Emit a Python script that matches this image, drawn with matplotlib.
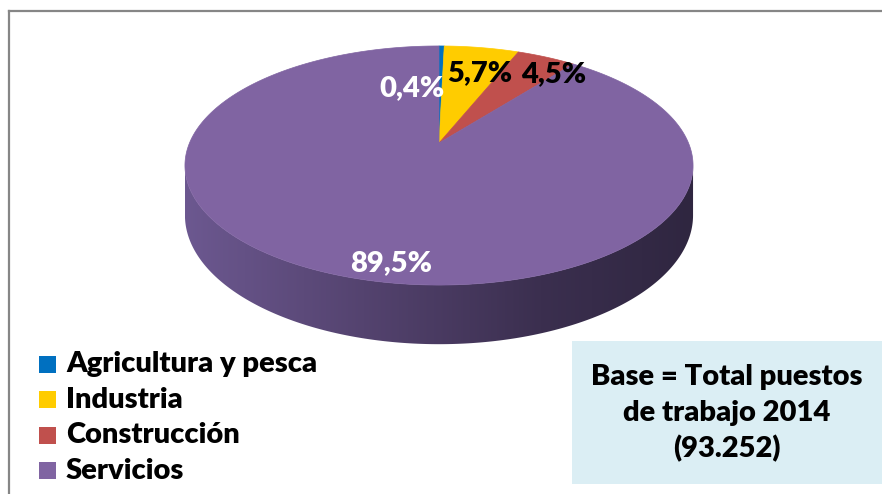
import numpy as np
import matplotlib
matplotlib.use("Agg")
import matplotlib.pyplot as plt
from matplotlib.patches import Polygon, Rectangle
from matplotlib.colors import LinearSegmentedColormap
from matplotlib.lines import Line2D

# ---- data ----
categories = ["Agricultura y pesca", "Industria", "Construcción", "Servicios"]
values = [0.4, 5.7, 4.5, 89.5]
value_labels = ["0,4%", "5,7%", "4,5%", "89,5%"]
colors = ["#0070c0", "#ffcc00", "#c0504d", "#8064a2"]
label_colors = ["white", "black", "black", "white"]
note_lines = ["Base = Total puestos", "de trabajo 2014", "(93.252)"]

W, H = 882, 494
fig = plt.figure(figsize=(W / 100, H / 100), dpi=100)
ax = fig.add_axes([0, 0, 1, 1])
ax.set_xlim(0, W)
ax.set_ylim(H, 0)
ax.axis("off")

FONT = ["Lato", "DejaVu Sans"]
FS = 21
FW = "heavy"

# ---- 3D pie geometry (perspective projection) ----
cx, cy = 439, 143
a, b, k = 249.5, 115.3, 0.1883
thick = 48.0


def proj(theta_deg, r=1.0, z=0.0):
    th = np.radians(theta_deg)
    x, y = r * np.cos(th), r * np.sin(th)
    w = 1 + k * y
    return cx + a * x / w, cy - b * y / w + z * thick / w


# side (front, visible part)
s0 = 180 + np.degrees(np.arcsin(k))
s1 = 360 - np.degrees(np.arcsin(k))
ths = np.linspace(s0, s1, 300)
tx, ty = proj(ths)
bx, by = proj(ths[::-1], z=1.0)
side_poly = Polygon(np.column_stack([np.r_[tx, bx], np.r_[ty, by]]),
                    closed=True, facecolor="none", edgecolor="none")
ax.add_patch(side_poly)
cmap = LinearSegmentedColormap.from_list(
    "side", [(0, "#6c5890"), (0.35, "#54436f"), (0.7, "#3b2f4f"), (1, "#2f2640")])
grad = np.linspace(0, 1, 256).reshape(1, -1)
im = ax.imshow(grad, cmap=cmap, extent=(tx.min(), tx.max(), by.max() + 2, ty.min()),
               aspect="auto", zorder=1)
im.set_clip_path(side_poly)

# top slices: start at 12 o'clock, clockwise
total = sum(values)
start = 90.0
mids = []
for v, c in zip(values, colors):
    sweep = 360.0 * v / total
    end = start - sweep
    arc = np.linspace(start, end, max(int(abs(sweep) * 2), 3))
    px, py = proj(arc)
    pts = np.column_stack([np.r_[cx, px], np.r_[cy, py]])
    ax.add_patch(Polygon(pts, closed=True, facecolor=c, edgecolor=c,
                         linewidth=0.5, zorder=2))
    mids.append((start + end) / 2)
    start = end

# data labels (anchored on slice mid-angle)
label_r = [0.62, 0.78, 0.78, 0.82]
label_off = [(4, 9), (6, 7), (28, 0), (30, 15)]
label_ha = ["right", "center", "center", "center"]
for lab, m, r, off, ha, lc in zip(value_labels, mids, label_r, label_off,
                                  label_ha, label_colors):
    x, y = proj(m, r=r)
    ax.text(x + off[0], y + off[1], lab, ha=ha, va="center", color=lc,
            fontsize=FS, fontweight=FW, family=FONT, zorder=5)

# ---- legend ----
leg_x, leg_y0, leg_dy = 39, 364, 35.5
for i, (cat, c) in enumerate(zip(categories, colors)):
    y = leg_y0 + i * leg_dy
    ax.add_patch(Rectangle((leg_x, y - 8.5), 17, 17, facecolor=c,
                           edgecolor="none", zorder=3))
    ax.text(66, y, cat, ha="left", va="center", fontsize=FS,
            fontweight=FW, family=FONT, color="black", zorder=3)

# ---- note box ----
ax.add_patch(Rectangle((572, 341), W - 572, 143, facecolor="#dbeef4",
                       edgecolor="none", zorder=3))
for i, line in enumerate(note_lines):
    ax.text(727, 377 + i * 36, line, ha="center", va="center", fontsize=FS,
            fontweight=FW, family=FONT, color="black", zorder=4)

# ---- chart border ----
ax.add_line(Line2D([9, W], [11.5, 11.5], color="#868686", linewidth=1.6, zorder=6))
ax.add_line(Line2D([9, 9], [11.5, H], color="#868686", linewidth=1.6, zorder=6))

fig.savefig("out.png", dpi=100)
